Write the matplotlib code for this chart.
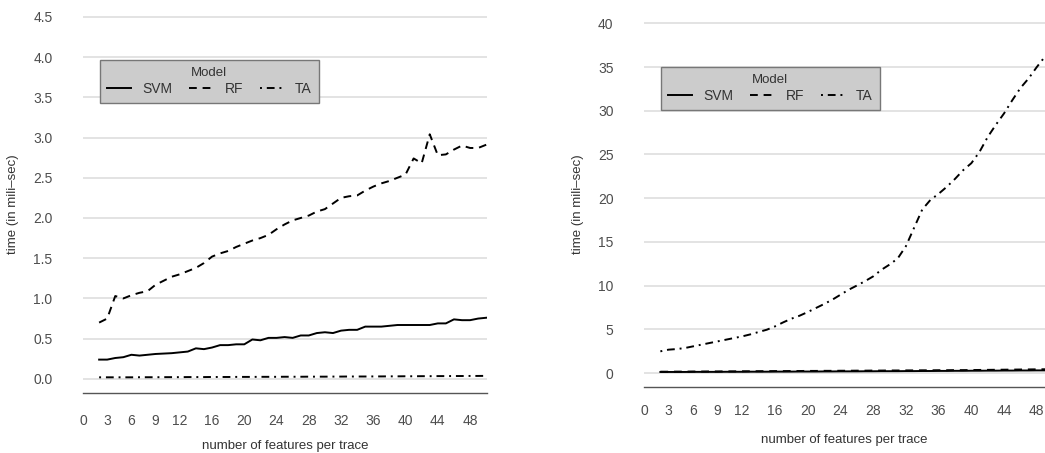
import matplotlib
matplotlib.use("Agg")
import matplotlib.pyplot as plt
from matplotlib.lines import Line2D

plt.rcParams['font.family'] = ['Liberation Sans', 'DejaVu Sans']

# number of features per trace
features = list(range(2, 51))

# left panel: time per model (ms)
svm_left = [0.24, 0.24, 0.26, 0.27, 0.30, 0.29, 0.30, 0.31, 0.315, 0.32,
            0.33, 0.34, 0.38, 0.37, 0.39, 0.42, 0.42, 0.43, 0.43, 0.49,
            0.48, 0.51, 0.51, 0.52, 0.51, 0.54, 0.54, 0.57, 0.58, 0.57,
            0.60, 0.61, 0.61, 0.65, 0.65, 0.65, 0.66, 0.67, 0.67, 0.67,
            0.67, 0.67, 0.69, 0.69, 0.74, 0.73, 0.73, 0.75, 0.76]
rf_left = [0.70, 0.75, 1.03, 1.00, 1.04, 1.07, 1.09, 1.17, 1.22, 1.27,
           1.30, 1.34, 1.38, 1.44, 1.52, 1.56, 1.59, 1.64, 1.68, 1.72,
           1.75, 1.79, 1.86, 1.92, 1.97, 2.00, 2.03, 2.08, 2.11, 2.18,
           2.25, 2.27, 2.28, 2.34, 2.39, 2.43, 2.46, 2.50, 2.54, 2.74,
           2.68, 3.04, 2.78, 2.79, 2.85, 2.90, 2.87, 2.87, 2.91]
ta_left = [0.020, 0.020, 0.020, 0.020, 0.020, 0.021, 0.021, 0.021, 0.022, 0.022,
           0.022, 0.023, 0.023, 0.023, 0.024, 0.024, 0.024, 0.025, 0.025, 0.025,
           0.026, 0.026, 0.026, 0.027, 0.027, 0.027, 0.028, 0.028, 0.028, 0.029,
           0.029, 0.030, 0.030, 0.030, 0.031, 0.031, 0.032, 0.032, 0.033, 0.033,
           0.034, 0.034, 0.035, 0.035, 0.036, 0.036, 0.037, 0.037, 0.038]

# right panel: time per model (ms)
features_r = list(range(2, 50))
svm_right = [0.12, 0.12, 0.12, 0.12, 0.13, 0.13, 0.13, 0.13, 0.14, 0.14,
             0.14, 0.15, 0.15, 0.15, 0.16, 0.16, 0.16, 0.17, 0.17, 0.17,
             0.18, 0.18, 0.19, 0.19, 0.19, 0.20, 0.20, 0.21, 0.21, 0.21,
             0.22, 0.22, 0.23, 0.23, 0.24, 0.24, 0.25, 0.25, 0.26, 0.26,
             0.27, 0.27, 0.28, 0.28, 0.29, 0.29, 0.30, 0.30]
rf_right = [0.15, 0.15, 0.16, 0.16, 0.17, 0.17, 0.18, 0.18, 0.19, 0.19,
            0.20, 0.20, 0.21, 0.21, 0.22, 0.22, 0.23, 0.23, 0.24, 0.24,
            0.25, 0.25, 0.26, 0.26, 0.27, 0.27, 0.28, 0.28, 0.29, 0.29,
            0.30, 0.30, 0.31, 0.31, 0.32, 0.32, 0.33, 0.33, 0.34, 0.35,
            0.36, 0.37, 0.38, 0.39, 0.40, 0.41, 0.42, 0.43]
ta_right = [2.48, 2.67, 2.74, 2.86, 3.05, 3.24, 3.43, 3.62, 3.81, 4.00,
            4.19, 4.42, 4.69, 4.95, 5.33, 5.79, 6.21, 6.55, 6.97, 7.43,
            7.89, 8.38, 8.95, 9.52, 10.0, 10.5, 11.05, 11.8, 12.4, 13.1,
            14.5, 16.6, 18.7, 19.8, 20.5, 21.3, 22.2, 23.2, 24.0, 25.3,
            27.0, 28.4, 29.7, 31.2, 32.6, 33.7, 35.0, 36.2]

x_ticks = [0, 3, 6, 9, 12, 16, 20, 24, 28, 32, 36, 40, 44, 48]
y_ticks_left = [0.0, 0.5, 1.0, 1.5, 2.0, 2.5, 3.0, 3.5, 4.0, 4.5]
y_ticks_right = [0, 5, 10, 15, 20, 25, 30, 35, 40]
model_names = ['SVM', 'RF', 'TA']

W, H = 1045, 453
fig = plt.figure(figsize=(W / 100, H / 100), dpi=100)

styles = {
    'SVM': dict(linestyle='-'),
    'RF': dict(linestyle=(0, (4, 3))),
    'TA': dict(linestyle=(0, (1, 2.5, 4, 2.5))),
}
LW = 1.4
TICK_COLOR = '#4d4d4d'
GRID_COLOR = '#e3e3e3'


def style_axes(ax, ylim, yticks, yfmt, xlim, xpad, xlabelpad):
    ax.set_xlim(*xlim)
    ax.set_ylim(*ylim)
    ax.set_xticks(x_ticks)
    ax.set_yticks(yticks)
    ax.set_yticklabels([yfmt.format(v) for v in yticks])
    for s in ('top', 'right', 'left'):
        ax.spines[s].set_visible(False)
    ax.spines['bottom'].set_color('#555555')
    ax.spines['bottom'].set_linewidth(1.0)
    ax.tick_params(axis='both', length=0, labelsize=10, colors=TICK_COLOR)
    ax.tick_params(axis='y', pad=22)
    ax.tick_params(axis='x', pad=xpad)
    ax.grid(axis='y', color=GRID_COLOR, linewidth=1.4)
    ax.set_axisbelow(True)
    ax.set_xlabel('number of features per trace', fontsize=9.5,
                  color='#333333', labelpad=xlabelpad)
    ax.set_ylabel('time (in mili\u2013sec)', fontsize=9.5, color='#333333',
                  labelpad=10)


def add_legend(ax, anchor):
    handles = [Line2D([], [], color='black', lw=LW, **styles[m])
               for m in model_names]
    leg = ax.legend(handles, model_names, title='Model', ncol=3,
                    loc='upper left', bbox_to_anchor=anchor,
                    fontsize=10, title_fontsize=9.5, frameon=True,
                    fancybox=False, handlelength=1.75, handletextpad=0.8,
                    columnspacing=1.2, borderpad=0.5, labelspacing=0.2,
                    borderaxespad=0)
    frame = leg.get_frame()
    frame.set_facecolor('#cccccc')
    frame.set_edgecolor('#777777')
    frame.set_linewidth(1.0)
    frame.set_alpha(1.0)
    for t in leg.get_texts():
        t.set_color('#333333')
    leg.get_title().set_color('#333333')


# left panel
ax1 = fig.add_axes([83 / W, 1 - 393 / H, (487 - 83) / W, (393 - 16) / H])
ax1.plot(features, svm_left, color='black', lw=LW, **styles['SVM'])
ax1.plot(features, rf_left, color='black', lw=LW, **styles['RF'])
ax1.plot(features, ta_left, color='black', lw=LW, **styles['TA'])
style_axes(ax1, (-0.175, 4.51), y_ticks_left, '{:.1f}', (0, 50.1), 15, 9)
add_legend(ax1, (17 / 404, (3.96 + 0.175) / 4.685))

# right panel
ax2 = fig.add_axes([644 / W, 1 - 387 / H, (W - 644) / W, (387 - 22) / H])
ax2.plot(features_r, svm_right, color='black', lw=LW, **styles['SVM'])
ax2.plot(features_r, rf_right, color='black', lw=LW, **styles['RF'])
ax2.plot(features_r, ta_right, color='black', lw=LW, **styles['TA'])
style_axes(ax2, (-1.6, 40.15), y_ticks_right, '{:d}', (0, 49.0), 12, 12)
add_legend(ax2, (17 / 401, (35.0 + 1.6) / 41.75))

fig.savefig('out.png', dpi=100)
